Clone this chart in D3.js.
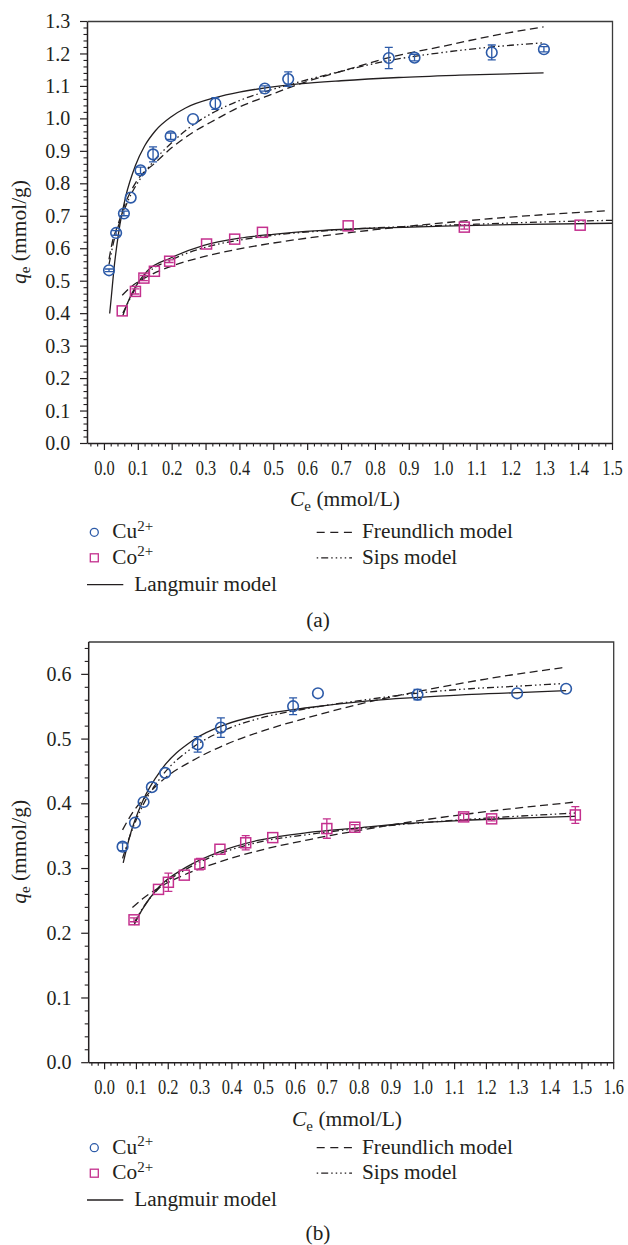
<!DOCTYPE html>
<html>
<head>
<meta charset="utf-8">
<script src="https://cdn.jsdelivr.net/npm/d3@7"></script>
<style>
  html, body { margin: 0; padding: 0; background: #fff; }
  svg { display: block; }
  svg text { font-family: "Liberation Serif", "DejaVu Serif", "Noto Serif", serif; fill: #231f20; }
</style>
</head>
<body>
<svg id="fig" width="628" height="1245"></svg>
<script>
// ---------- Panel (a): equilibrium data [Ce, qe, error] ----------
const cuPointsA = [
  [0.015, 0.532, 0.004], [0.036, 0.647, 0.007], [0.059, 0.707, 0.007], [0.079, 0.756, 0],
  [0.108, 0.840, 0.010], [0.145, 0.889, 0.023], [0.197, 0.945, 0.010], [0.263, 0.998, 0],
  [0.329, 1.046, 0.018], [0.475, 1.092, 0.008], [0.544, 1.121, 0.022], [0.841, 1.186, 0.033],
  [0.917, 1.187, 0.010], [1.145, 1.203, 0.023], [1.299, 1.213, 0.008]
];
const coPointsA = [
  [0.054, 0.407, 0], [0.093, 0.467, 0.008], [0.118, 0.508, 0.008], [0.149, 0.529, 0],
  [0.194, 0.560, 0.004], [0.303, 0.613, 0], [0.386, 0.628, 0], [0.468, 0.649, 0],
  [0.721, 0.669, 0], [1.064, 0.665, 0.006], [1.406, 0.671, 0]
];
// model curves, panel (a) [Ce, qe]
const cuLangmuirA = [
  [0.017, 0.399], [0.022, 0.452], [0.029, 0.530], [0.044, 0.652], [0.064, 0.758],
  [0.093, 0.855], [0.120, 0.915], [0.152, 0.962], [0.200, 1.006], [0.241, 1.032],
  [0.329, 1.064], [0.400, 1.081], [0.477, 1.094], [0.575, 1.106], [0.700, 1.116],
  [0.870, 1.126], [1.050, 1.133], [1.298, 1.140]
];
const cuFreundlichA = [
  [0.015, 0.566], [0.025, 0.620], [0.039, 0.665], [0.060, 0.730], [0.098, 0.809],
  [0.150, 0.862], [0.197, 0.907], [0.260, 0.955], [0.329, 0.996], [0.400, 1.035],
  [0.475, 1.066], [0.600, 1.114], [0.700, 1.145], [0.841, 1.187], [1.000, 1.222],
  [1.150, 1.255], [1.298, 1.282]
];
const cuSipsA = [
  [0.015, 0.550], [0.030, 0.625], [0.050, 0.690], [0.075, 0.755], [0.108, 0.815],
  [0.150, 0.872], [0.200, 0.925], [0.263, 0.980], [0.330, 1.022], [0.400, 1.055],
  [0.475, 1.082], [0.575, 1.112], [0.700, 1.145], [0.841, 1.178], [1.000, 1.203],
  [1.145, 1.220], [1.300, 1.233]
];
const coLangmuirA = [
  [0.056, 0.393], [0.070, 0.432], [0.093, 0.481], [0.128, 0.530], [0.197, 0.570],
  [0.295, 0.609], [0.400, 0.631], [0.500, 0.643], [0.634, 0.654], [0.800, 0.662],
  [1.000, 0.668], [1.200, 0.673], [1.500, 0.677]
];
const coFreundlichA = [
  [0.054, 0.455], [0.080, 0.481], [0.120, 0.508], [0.200, 0.545], [0.280, 0.570],
  [0.400, 0.598], [0.500, 0.616], [0.634, 0.636], [0.800, 0.657], [1.000, 0.678],
  [1.200, 0.696], [1.480, 0.715]
];
const coSipsA = [
  [0.056, 0.400], [0.093, 0.475], [0.128, 0.522], [0.200, 0.565], [0.300, 0.603],
  [0.400, 0.625], [0.500, 0.640], [0.700, 0.657], [0.900, 0.667], [1.100, 0.674],
  [1.300, 0.681], [1.500, 0.686]
];

// ---------- Panel (b): equilibrium data [Ce, qe, error] ----------
const cuPointsB = [
  [0.058, 0.333, 0.006], [0.097, 0.370, 0], [0.124, 0.402, 0], [0.150, 0.425, 0],
  [0.192, 0.447, 0], [0.294, 0.491, 0.012], [0.367, 0.517, 0.015], [0.594, 0.550, 0.013],
  [0.672, 0.570, 0], [0.985, 0.568, 0.008], [1.298, 0.570, 0], [1.452, 0.577, 0]
];
const coPointsB = [
  [0.094, 0.220, 0.003], [0.171, 0.267, 0], [0.202, 0.278, 0.014], [0.252, 0.289, 0],
  [0.301, 0.306, 0.009], [0.364, 0.329, 0], [0.445, 0.339, 0.011], [0.530, 0.347, 0],
  [0.700, 0.361, 0.015], [0.788, 0.363, 0.004], [1.130, 0.379, 0.005], [1.218, 0.376, 0.003],
  [1.481, 0.382, 0.013]
];
// model curves, panel (b) [Ce, qe]
const cuLangmuirB = [
  [0.060, 0.308], [0.080, 0.348], [0.120, 0.402], [0.183, 0.454], [0.278, 0.497],
  [0.383, 0.522], [0.487, 0.536], [0.645, 0.548], [0.823, 0.558], [1.000, 0.564],
  [1.137, 0.568], [1.300, 0.571], [1.452, 0.574]
];
const cuFreundlichB = [
  [0.058, 0.359], [0.090, 0.386], [0.130, 0.410], [0.194, 0.440], [0.278, 0.466],
  [0.383, 0.491], [0.487, 0.510], [0.645, 0.533], [0.800, 0.553], [1.000, 0.574],
  [1.200, 0.592], [1.447, 0.610]
];
const cuSipsB = [
  [0.058, 0.315], [0.080, 0.348], [0.120, 0.395], [0.183, 0.443], [0.278, 0.486],
  [0.383, 0.514], [0.487, 0.531], [0.645, 0.547], [0.823, 0.560], [1.000, 0.571],
  [1.150, 0.577], [1.300, 0.581], [1.441, 0.585]
];
const coLangmuirB = [
  [0.094, 0.212], [0.120, 0.236], [0.173, 0.271], [0.257, 0.301], [0.362, 0.325],
  [0.487, 0.343], [0.645, 0.355], [0.800, 0.362], [0.928, 0.368], [1.100, 0.373],
  [1.300, 0.377], [1.481, 0.380]
];
const coFreundlichB = [
  [0.089, 0.239], [0.120, 0.252], [0.173, 0.270], [0.250, 0.289], [0.330, 0.304],
  [0.487, 0.327], [0.645, 0.344], [0.800, 0.358], [1.000, 0.374], [1.200, 0.387],
  [1.481, 0.402]
];
const coSipsB = [
  [0.094, 0.215], [0.120, 0.237], [0.173, 0.269], [0.257, 0.298], [0.362, 0.322],
  [0.487, 0.340], [0.645, 0.352], [0.800, 0.361], [1.000, 0.370], [1.200, 0.377],
  [1.481, 0.385]
];

// ---------- tick values ----------
const xTicksA = [0, 0.1, 0.2, 0.3, 0.4, 0.5, 0.6, 0.7, 0.8, 0.9, 1.0, 1.1, 1.2, 1.3, 1.4, 1.5];
const yTicksA = [0, 0.1, 0.2, 0.3, 0.4, 0.5, 0.6, 0.7, 0.8, 0.9, 1.0, 1.1, 1.2, 1.3];
const xTicksB = [0, 0.1, 0.2, 0.3, 0.4, 0.5, 0.6, 0.7, 0.8, 0.9, 1.0, 1.1, 1.2, 1.3, 1.4, 1.5, 1.6];
const yTicksB = [0, 0.1, 0.2, 0.3, 0.4, 0.5, 0.6];

// ---------- legend entries ----------
const ionLabels = ["Cu", "Co"];
const modelLabels = ["Langmuir model", "Freundlich model", "Sips model"];

const BLUE = "#2c5aa8";
const MAGENTA = "#c4308e";
const INK = "#231f20";
const SERIF = "'Liberation Serif', 'DejaVu Serif', 'Noto Serif', serif";
const DASH = "8,4.5";
const DASH_DOT_DOT = "7,3,1.5,3,1.5,3";
const LEGEND_SIZE = 21.3;
const TITLE_SIZE = 21.5;

const svg = d3.select("#fig");
const fmt = d3.format(".1f");

function minorValues(lo, hi, step, majors) {
  const out = [];
  for (let i = Math.round(lo / step); i * step <= hi + 1e-9; i++) {
    const v = +(i * step).toFixed(4);
    if (!majors.some(m => Math.abs(m - v) < 1e-6)) out.push(v);
  }
  return out;
}

function drawPanel(cfg) {
  const g = svg.append("g").attr("font-family", SERIF);
  const x = d3.scaleLinear().domain(cfg.xDomain).range([cfg.left, cfg.right]);
  const y = d3.scaleLinear().domain(cfg.yDomain).range([cfg.bottom, cfg.top]);

  // top and right frame
  g.append("path")
    .attr("d", `M${cfg.left + 0.5},${cfg.top + 0.5}H${cfg.right + 0.5}V${cfg.bottom + 0.5}`)
    .attr("fill", "none").attr("stroke", "#3b3b3b").attr("stroke-width", 1.3);

  // x axis: minor then major ticks
  g.append("g").attr("transform", `translate(0,${cfg.bottom})`)
    .call(d3.axisBottom(x).tickValues(minorValues(-0.04, cfg.xDomain[1], 0.02, cfg.xTicks))
      .tickSize(3.5).tickFormat(""))
    .call(s => s.select(".domain").remove())
    .call(s => s.selectAll("line").attr("stroke", INK).attr("stroke-width", 1.1));
  const gx = g.append("g").attr("transform", `translate(0,${cfg.bottom})`)
    .call(d3.axisBottom(x).tickValues(cfg.xTicks).tickSize(7).tickSizeOuter(0).tickFormat(fmt));
  gx.select(".domain").attr("stroke", INK).attr("stroke-width", 1.5);
  gx.selectAll("line").attr("stroke", INK).attr("stroke-width", 1.2);
  gx.attr("font-family", SERIF).attr("font-size", 20);
  gx.selectAll("text")
    .attr("y", 31.7).attr("dy", null)
    .attr("fill", INK)
    .attr("textLength", 20.5).attr("lengthAdjust", "spacingAndGlyphs");

  // y axis: minor then major ticks
  g.append("g").attr("transform", `translate(${cfg.left},0)`)
    .call(d3.axisLeft(y).tickValues(minorValues(0, cfg.yDomain[1], 0.02, cfg.yTicks))
      .tickSize(3.5).tickFormat(""))
    .call(s => s.select(".domain").remove())
    .call(s => s.selectAll("line").attr("stroke", INK).attr("stroke-width", 1.1));
  const gy = g.append("g").attr("transform", `translate(${cfg.left},0)`)
    .call(d3.axisLeft(y).tickValues(cfg.yTicks).tickSize(7).tickSizeOuter(0)
      .tickPadding(9.8).tickFormat(fmt));
  gy.select(".domain").attr("stroke", INK).attr("stroke-width", 1.5);
  gy.selectAll("line").attr("stroke", INK).attr("stroke-width", 1.2);
  gy.attr("font-family", SERIF).attr("font-size", 20);
  gy.selectAll("text").attr("fill", INK).attr("dy", "0.33em");

  // model curves
  const line = d3.line().x(d => x(d[0])).y(d => y(d[1])).curve(d3.curveMonotoneX);
  const curves = [
    [cfg.cuLangmuir, null], [cfg.cuFreundlich, DASH], [cfg.cuSips, DASH_DOT_DOT],
    [cfg.coLangmuir, null], [cfg.coFreundlich, DASH], [cfg.coSips, DASH_DOT_DOT]
  ];
  g.append("g").selectAll("path").data(curves).join("path")
    .attr("d", d => line(d[0]))
    .attr("fill", "none").attr("stroke", INK).attr("stroke-width", 1.3)
    .attr("stroke-dasharray", d => d[1]);

  // error bars
  function errorBars(data, color) {
    g.append("g").selectAll("path").data(data.filter(d => d[2] > 0)).join("path")
      .attr("d", d => {
        const cx = x(d[0]), y1 = y(d[1] + d[2]), y0 = y(d[1] - d[2]);
        return `M${cx},${y0}V${y1}M${cx - 4},${y1}h8M${cx - 4},${y0}h8`;
      })
      .attr("fill", "none").attr("stroke", color).attr("stroke-width", 1.3);
  }

  // Cu2+ markers
  g.append("g").selectAll("circle").data(cfg.cuPoints).join("circle")
    .attr("cx", d => x(d[0])).attr("cy", d => y(d[1])).attr("r", 5.3)
    .attr("fill", "none").attr("stroke", BLUE).attr("stroke-width", 1.6);
  errorBars(cfg.cuPoints, BLUE);

  // Co2+ markers
  g.append("g").selectAll("rect").data(cfg.coPoints).join("rect")
    .attr("x", d => x(d[0]) - 5).attr("y", d => y(d[1]) - 5)
    .attr("width", 10).attr("height", 10)
    .attr("fill", "none").attr("stroke", MAGENTA).attr("stroke-width", 1.5);
  errorBars(cfg.coPoints, MAGENTA);

  // axis titles
  const yt = g.append("text")
    .attr("transform", `translate(25.5,${(cfg.top + cfg.bottom) / 2}) rotate(-90)`)
    .attr("text-anchor", "middle").attr("font-size", TITLE_SIZE);
  yt.append("tspan").attr("font-style", "italic").text("q");
  yt.append("tspan").attr("font-size", 15).attr("dy", 4.8).text("e");
  yt.append("tspan").attr("dy", -4.8).text(" (mmol/g)");

  const xt = g.append("text")
    .attr("x", cfg.xTitleX).attr("y", cfg.xTitleY)
    .attr("text-anchor", "middle").attr("font-size", TITLE_SIZE);
  xt.append("tspan").attr("font-style", "italic").text("C");
  xt.append("tspan").attr("font-size", 15).attr("dy", 4.8).text("e");
  xt.append("tspan").attr("dy", -4.8).text(" (mmol/L)");

  // legend
  const L = cfg.legendTop;       // centre of the first legend row
  const rows = [L, L + 25.5, L + 52.3];
  g.append("circle").attr("cx", 94.3).attr("cy", rows[0]).attr("r", 4)
    .attr("fill", "none").attr("stroke", BLUE).attr("stroke-width", 1.3);
  g.append("rect").attr("x", 90.3).attr("y", rows[1] - 4).attr("width", 8).attr("height", 8)
    .attr("fill", "none").attr("stroke", MAGENTA).attr("stroke-width", 1.3);
  ionLabels.forEach((lab, i) => {
    const t = g.append("text").attr("x", 112.3).attr("y", rows[i] + 5.8).attr("font-size", LEGEND_SIZE);
    t.append("tspan").text(lab);
    t.append("tspan").attr("font-size", 15).attr("dy", -7.5).text("2+");
  });
  g.append("line").attr("x1", 87).attr("x2", 123.3).attr("y1", rows[2]).attr("y2", rows[2])
    .attr("stroke", INK).attr("stroke-width", 1.3);
  g.append("text").attr("x", 134.3).attr("y", rows[2] + 6).attr("font-size", LEGEND_SIZE).text(modelLabels[0]);
  g.append("line").attr("x1", 316.7).attr("x2", 352).attr("y1", rows[0]).attr("y2", rows[0])
    .attr("stroke", INK).attr("stroke-width", 1.3).attr("stroke-dasharray", "8,5.6");
  g.append("text").attr("x", 362).attr("y", rows[0] + 5.8).attr("font-size", LEGEND_SIZE).text(modelLabels[1]);
  g.append("line").attr("x1", 316.7).attr("x2", 352).attr("y1", rows[1]).attr("y2", rows[1])
    .attr("stroke", INK).attr("stroke-width", 1.3)
    .attr("stroke-dasharray", "1.5,3,7,3,1.5,3,1.5,3,1.5,3");
  g.append("text").attr("x", 362).attr("y", rows[1] + 5.8).attr("font-size", LEGEND_SIZE).text(modelLabels[2]);

  // panel tag
  g.append("text").attr("x", 318).attr("y", cfg.tagY).attr("text-anchor", "middle")
    .attr("font-size", LEGEND_SIZE).text(cfg.tag);
}

drawPanel({
  left: 87, right: 612, top: 21, bottom: 443,
  xDomain: [-0.05, 1.5], yDomain: [0, 1.3],
  xTicks: xTicksA, yTicks: yTicksA,
  cuPoints: cuPointsA, coPoints: coPointsA,
  cuLangmuir: cuLangmuirA, cuFreundlich: cuFreundlichA, cuSips: cuSipsA,
  coLangmuir: coLangmuirA, coFreundlich: coFreundlichA, coSips: coSipsA,
  xTitleX: 345, xTitleY: 506,
  legendTop: 532.3, tag: "(a)", tagY: 627
});

drawPanel({
  left: 88.2, right: 613.2, top: 641.5, bottom: 1062.2,
  xDomain: [-0.05, 1.6], yDomain: [0, 0.65],
  xTicks: xTicksB, yTicks: yTicksB,
  cuPoints: cuPointsB, coPoints: coPointsB,
  cuLangmuir: cuLangmuirB, cuFreundlich: cuFreundlichB, cuSips: cuSipsB,
  coLangmuir: coLangmuirB, coFreundlich: coFreundlichB, coSips: coSipsB,
  xTitleX: 347, xTitleY: 1126,
  legendTop: 1147.7, tag: "(b)", tagY: 1240
});
</script>
</body>
</html>
